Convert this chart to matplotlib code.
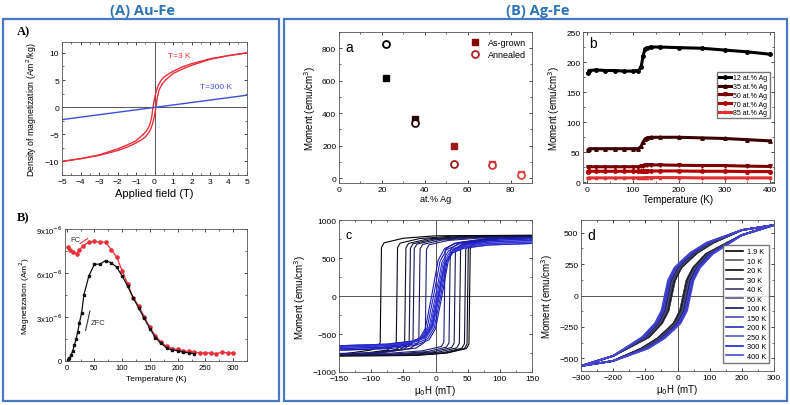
import numpy as np
import matplotlib.pyplot as plt
from matplotlib.patches import Rectangle
from matplotlib.ticker import AutoMinorLocator

plt.rcParams['font.family'] = ['Liberation Sans', 'DejaVu Sans']

W, H = 790, 406

# ---------------- data ----------------
# (A) Au-Fe, hysteresis at 3 K (descending branch; ascending = mirror)
auA_field = [5, 4, 3, 2, 1.5, 1, 0.7, 0.5, 0.35, 0.2, 0.1, 0, -0.08, -0.15,
             -0.25, -0.4, -0.6, -1, -1.5, -2, -3, -4, -5]
auA_m3k = [10, 9.5, 8.9, 8.0, 7.4, 6.6, 6.0, 5.5, 4.9, 4.0, 3.0, 1.6, 0, -1.8,
           -3.2, -4.2, -5.0, -6.2, -7.0, -7.7, -8.8, -9.5, -10]
auA_field_300k = [-5, 5]
auA_m300k = [-2.3, 2.2]

# (B) Au-Fe, ZFC / FC magnetization (x1e-6 Am^2)
zfc_T = [2, 5, 8, 11, 14, 17, 20, 23, 27, 31, 40, 50, 60, 70, 80, 90, 100, 110,
         120, 130, 140, 150, 160, 170, 180, 190, 200, 210, 220, 230]
zfc_m = [0.1, 0.2, 0.4, 0.7, 1.1, 1.5, 2.0, 2.6, 3.3, 4.5, 5.8, 6.6, 6.6, 6.85,
         6.7, 6.4, 5.8, 5.1, 4.3, 3.6, 2.9, 2.2, 1.6, 1.2, 0.9, 0.75, 0.7, 0.6,
         0.55, 0.5]
fc_T = [2, 6, 12, 18, 23, 30, 40, 50, 60, 70, 80, 90, 100, 110, 120, 130, 140,
        150, 160, 170, 180, 190, 200, 210, 220, 230, 240, 250, 260, 270, 280,
        290, 300]
fc_m = [7.75, 7.6, 7.4, 7.3, 7.6, 7.85, 8.1, 8.15, 8.1, 8.1, 7.6, 7.1, 6.15,
        5.25, 4.3, 3.75, 3.0, 2.3, 1.7, 1.3, 1.0, 0.85, 0.8, 0.7, 0.65, 0.6,
        0.55, 0.55, 0.55, 0.5, 0.6, 0.55, 0.55]

# (a) Ag-Fe moment vs composition
ag_pct = [22, 35.5, 53.5, 71.5, 85]
asgrown = [615, 365, 200, 88, 25]
annealed = [828, 340, 88, 80, 20]
comp_colors = ['#000000', '#2a0505', '#9b1b1b', '#d03a3a', '#e04848']

# (b) Ag-Fe moment vs temperature
b_T = [2, 5, 20, 40, 60, 80, 100, 112, 118, 122, 126, 130, 140, 160, 200, 250,
       300, 350, 400]
b_m12 = [182, 186, 187, 186, 186, 185, 185, 186, 192, 210, 221, 224, 225, 225,
         224, 223, 220, 217, 213]
b_m35 = [54, 56, 56, 56, 56, 56, 56, 56, 60, 67, 72, 74, 75, 75, 75, 74, 73,
         71, 69]
b_m50 = [25, 26, 26, 26, 26, 26, 26, 26, 27, 28, 28.5, 29, 29, 29, 28.5, 28,
         28, 27, 26.5]
b_m70 = [18, 18.5, 18.5, 18.5, 18.5, 18.5, 18.5, 18.5, 18.5, 19, 19, 19, 19,
         19, 19, 18.5, 18.5, 18, 18]
b_m85 = [7, 7.5, 7.5, 7.5, 7.5, 7.5, 7.5, 7.5, 7.5, 7.5, 8, 8, 8, 8, 8, 7.5,
         7.5, 7.5, 7.5]
b_labels = ['12 at.% Ag', '35 at.% Ag', '50 at.% Ag', '70 at.% Ag', '85 at.% Ag']

# (c) loops: switching fields (mT), saturation, branch profile
c_hc_down = [-85, -60, -47, -40, -34, -25, -15, -6, -3, 0, 2, 4]
c_hc_up = [53, 50, 46, 38, 30, 22, 14, 10, 8, 6, 5, 4]
c_ms_pos = [800, 795, 790, 785, 780, 775, 770, 780, 760, 740, 720, 700]
c_ms_neg = [790, 790, 785, 780, 775, 770, 760, 720, 700, 680, 670, 660]
c_colors = ['#000000', '#0a0a1a', '#101030', '#141438', '#181850', '#1c1c60',
            '#202078', '#1a1ab0', '#2020c0', '#2a2ad0', '#3535d8', '#2a2ac8']
c_round = [0, 0, 0, 0, 0, 0, 0, 1, 1, 1, 1, 1]
# normalised descending-branch profiles: offset from switching field -> M/Ms
prof_dh = [400, 235, 85, 35, 5, 1, 0, -1, -3, -15, -65, -150, -400]
prof_sharp = [1.0, 1.0, 0.99, 0.95, 0.875, 0.8, 0.0, -0.78, -0.81, -0.9,
              -0.975, -1.0, -1.0]
prof_dh_round = [400, 150, 80, 40, 20, 10, 0, -10, -20, -40, -80, -150, -400]
prof_round = [1.0, 0.99, 0.96, 0.9, 0.8, 0.6, 0.0, -0.6, -0.8, -0.9, -0.96,
              -0.99, -1.0]

# (d) loops: base descending branch (coercive field 30 mT)
d_base_h = [300, 200, 100, 50, 20, 0, -20, -30, -40, -60, -100, -200, -300]
d_base_m = [560, 520, 420, 340, 270, 220, 120, 0, -120, -220, -330, -480, -560]
d_labels = ['1.9 K', '10 K', '20 K', '30 K', '40 K', '50 K', '100 K', '150 K',
            '200 K', '250 K', '300 K', '400 K']
d_hc = [42, 42, 40, 38, 35, 33, 30, 27, 25, 24, 22, 20]
d_colors = ['#000000', '#55555f', '#08080f', '#30304a', '#3a3a6a', '#555580',
            '#151560', '#4a4ab0', '#2a2ac0', '#5555c5', '#2020d0', '#4848cc']


def ax_at(l, t, r, b):
    return fig.add_axes([l / W, 1 - b / H, (r - l) / W, (b - t) / H])


def style(ax, fs=5.5):
    ax.tick_params(direction='in', top=True, right=True, labelsize=fs,
                   length=2.5, width=0.5, pad=2)
    ax.tick_params(which='minor', direction='in', top=True, right=True,
                   length=1.5, width=0.4)
    ax.xaxis.set_minor_locator(AutoMinorLocator(2))
    ax.yaxis.set_minor_locator(AutoMinorLocator(2))
    for s in ax.spines.values():
        s.set_linewidth(0.6)
        s.set_color('#555555')


fig = plt.figure(figsize=(W / 100, H / 100), dpi=100)

# frames and titles
blue = '#4a78c2'
for (x0, y0, x1, y1) in [(3, 20, 279, 402), (284, 20, 787, 402)]:
    fig.patches.append(Rectangle((x0 / W, 1 - y1 / H), (x1 - x0) / W,
                                 (y1 - y0) / H, transform=fig.transFigure,
                                 fill=False, ec=blue, lw=1.6))
fig.text(143 / W, 1 - 11 / H, '(A) Au-Fe', ha='center', va='center',
         fontsize=10.5, fontweight='bold', color='#2e74b5', family='Open Sans')
fig.text(538 / W, 1 - 11 / H, '(B) Ag-Fe', ha='center', va='center',
         fontsize=10.5, fontweight='bold', color='#2e74b5', family='Open Sans')

# ---------------- (A) ----------------
ax = ax_at(62, 43, 247, 176)
style(ax, 6)
ax.axhline(0, color='#555555', lw=0.7)
ax.axvline(0, color='#555555', lw=0.7)
ax.plot(auA_field, auA_m3k, color='#e8303a', lw=1.0)
ax.plot([-h for h in auA_field], [-m for m in auA_m3k], color='#e8303a', lw=1.0)
ax.plot(auA_field_300k, auA_m300k, color='#3b4fd8', lw=1.0)
ax.text(0.75, 9.3, 'T=3 K', color='#e8303a', fontsize=6)
ax.text(2.45, 3.6, 'T=300 K', color='#3b4fd8', fontsize=6)
ax.set_xlim(-5, 5)
ax.set_ylim(-12.5, 12)
ax.set_xticks(range(-5, 6))
ax.set_yticks([-10, -5, 0, 5, 10])
ax.set_xlabel('Applied field (T)', fontsize=8, labelpad=2)
ax.set_ylabel('Density of magnetization (Am$^2$/kg)', fontsize=6.3, labelpad=4)
fig.text(17 / W, 1 - 32 / H, 'A)', fontsize=9, fontweight='bold',
         family='Liberation Serif', va='center')

# ---------------- (B) ----------------
ax = ax_at(65, 230, 247, 362)
style(ax, 5.5)
ax.plot(fc_T, fc_m, color='#e8303a', lw=0.9, marker='o', ms=2.3)
ax.plot(zfc_T, zfc_m, color='#111111', lw=0.9, marker='s', ms=2.1)
ax.set_xlim(-3, 325)
ax.set_ylim(0, 9)
ax.set_xticks([0, 50, 100, 150, 200, 250, 300])
ax.set_yticks([0, 3, 6, 9])
ax.set_yticklabels(['0', '3x10$^{-6}$', '6x10$^{-6}$', '9x10$^{-6}$'])
ax.set_xlabel('Temperature (K)', fontsize=6, labelpad=3)
ax.set_ylabel('Magnetization (Am$^2$)', fontsize=6, labelpad=3)
ax.text(7, 8.2, 'FC', fontsize=5.5, color='#333333')
ax.annotate('', xy=(42, 8.45), xytext=(20, 7.9),
            arrowprops=dict(arrowstyle='-', color='#e8303a', lw=0.8))
ax.annotate('', xy=(43, 3.6), xytext=(33, 1.9),
            arrowprops=dict(arrowstyle='-', color='#333333', lw=0.8))
ax.text(44, 2.5, 'ZFC', fontsize=5.5, color='#333333')
fig.text(17 / W, 1 - 218 / H, 'B)', fontsize=9, fontweight='bold',
         family='Liberation Serif', va='center')

# ---------------- (a) ----------------
ax = ax_at(339, 33, 532, 184)
style(ax, 6)
for x, yg, ya, c in zip(ag_pct, asgrown, annealed, comp_colors):
    ax.plot(x, yg, 's', color=c, ms=5, mec=c)
    ax.plot(x, ya, 'o', mfc='white', mec=c, mew=1.3, ms=5)
ax.plot([], [], 's', color='#8b0000', ms=5, label='As-grown')
ax.plot([], [], 'o', mfc='white', mec='#b22222', mew=1.3, ms=5, label='Annealed')
ax.legend(loc='upper right', fontsize=6.5, frameon=False, handletextpad=0.4,
          borderaxespad=0.3, labelspacing=0.3)
ax.text(3, 810, 'a', fontsize=10, va='center')
ax.set_xlim(0, 90)
ax.set_ylim(-30, 900)
ax.set_xticks([0, 20, 40, 60, 80])
ax.set_yticks([0, 200, 400, 600, 800])
ax.set_xlabel('at.% Ag', fontsize=6.5, labelpad=1)
ax.set_ylabel('Moment (emu/cm$^3$)', fontsize=7, labelpad=3)

# ---------------- (b) ----------------
ax = ax_at(583, 33, 774, 184)
style(ax, 6)
b_series = [b_m12, b_m35, b_m50, b_m70, b_m85]
b_colors = ['#000000', '#3d0000', '#7a0000', '#b00000', '#e03030']
b_markers = ['o', '^', 'v', 'o', '*']
for ys, c, mk, lab in zip(b_series, b_colors, b_markers, b_labels):
    ax.plot(b_T, ys, color=c, lw=2.2, marker=mk, ms=2.5, label=lab)
ax.legend(loc='center right', bbox_to_anchor=(0.995, 0.58), fontsize=5,
          frameon=True, fancybox=False, edgecolor='#555555', handlelength=1.6,
          labelspacing=0.25, handletextpad=0.4, borderpad=0.3)
ax.text(5, 232, 'b', fontsize=10, va='center')
ax.set_xlim(-9, 408)
ax.set_ylim(-1, 250)
ax.set_xticks([0, 100, 200, 300, 400])
ax.set_yticks([0, 50, 100, 150, 200, 250])
ax.set_xlabel('Temperature (K)', fontsize=7, labelpad=1)
ax.set_ylabel('Moment (emu/cm$^3$)', fontsize=7, labelpad=3)

# ---------------- (c) ----------------
ax = ax_at(339, 221, 532, 373)
style(ax, 6)
ax.axhline(0, color='#555555', lw=0.7)
ax.axvline(0, color='#555555', lw=0.7)
for hd, hu, mp, mn, c, rnd in zip(c_hc_down, c_hc_up, c_ms_pos, c_ms_neg,
                                  c_colors, c_round):
    dh = np.array(prof_dh_round if rnd else prof_dh, float)
    pr = np.array(prof_round if rnd else prof_sharp, float)
    scale = np.where(pr >= 0, mp, mn)
    ax.plot(hd + dh, pr * scale, color=c, lw=0.8)
    ax.plot(hu - dh, -pr * np.where(pr >= 0, mn, mp), color=c, lw=0.8)
ax.text(-140, 800, 'c', fontsize=9, va='center')
ax.set_xlim(-150, 150)
ax.set_ylim(-1000, 1000)
ax.set_xticks([-150, -100, -50, 0, 50, 100, 150])
ax.set_yticks([-1000, -500, 0, 500, 1000])
ax.set_xlabel('μ$_0$H (mT)', fontsize=7, labelpad=1)
ax.set_ylabel('Moment (emu/cm$^3$)', fontsize=7, labelpad=3)

# ---------------- (d) ----------------
ax = ax_at(581, 221, 774, 372)
style(ax, 6)
ax.axhline(0, color='#555555', lw=0.7)
ax.axvline(0, color='#555555', lw=0.7)
bh = np.array(d_base_h, float)
bm = np.array(d_base_m, float)
for hc, c, lab in zip(d_hc, d_colors, d_labels):
    shift = np.where(np.abs(bh) < 120, hc - 30, 0)
    ax.plot(bh + shift, bm, color=c, lw=1.2, label=lab)
    ax.plot(-(bh + shift), -bm, color=c, lw=1.2)
ax.legend(loc='lower right', bbox_to_anchor=(0.995, 0.03), fontsize=5.3,
          frameon=True, fancybox=False, edgecolor='#555555', handlelength=2.4,
          labelspacing=0.32, handletextpad=0.5, borderpad=0.4)
ax.text(-280, 480, 'd', fontsize=10, va='center')
ax.set_xlim(-300, 300)
ax.set_ylim(-600, 600)
ax.set_xticks([-300, -200, -100, 0, 100, 200, 300])
ax.set_yticks([-500, -250, 0, 250, 500])
ax.set_xlabel('μ$_0$H (mT)', fontsize=7, labelpad=1)
ax.set_ylabel('Moment (emu/cm$^3$)', fontsize=7, labelpad=3)

fig.savefig('out.png', dpi=100)
